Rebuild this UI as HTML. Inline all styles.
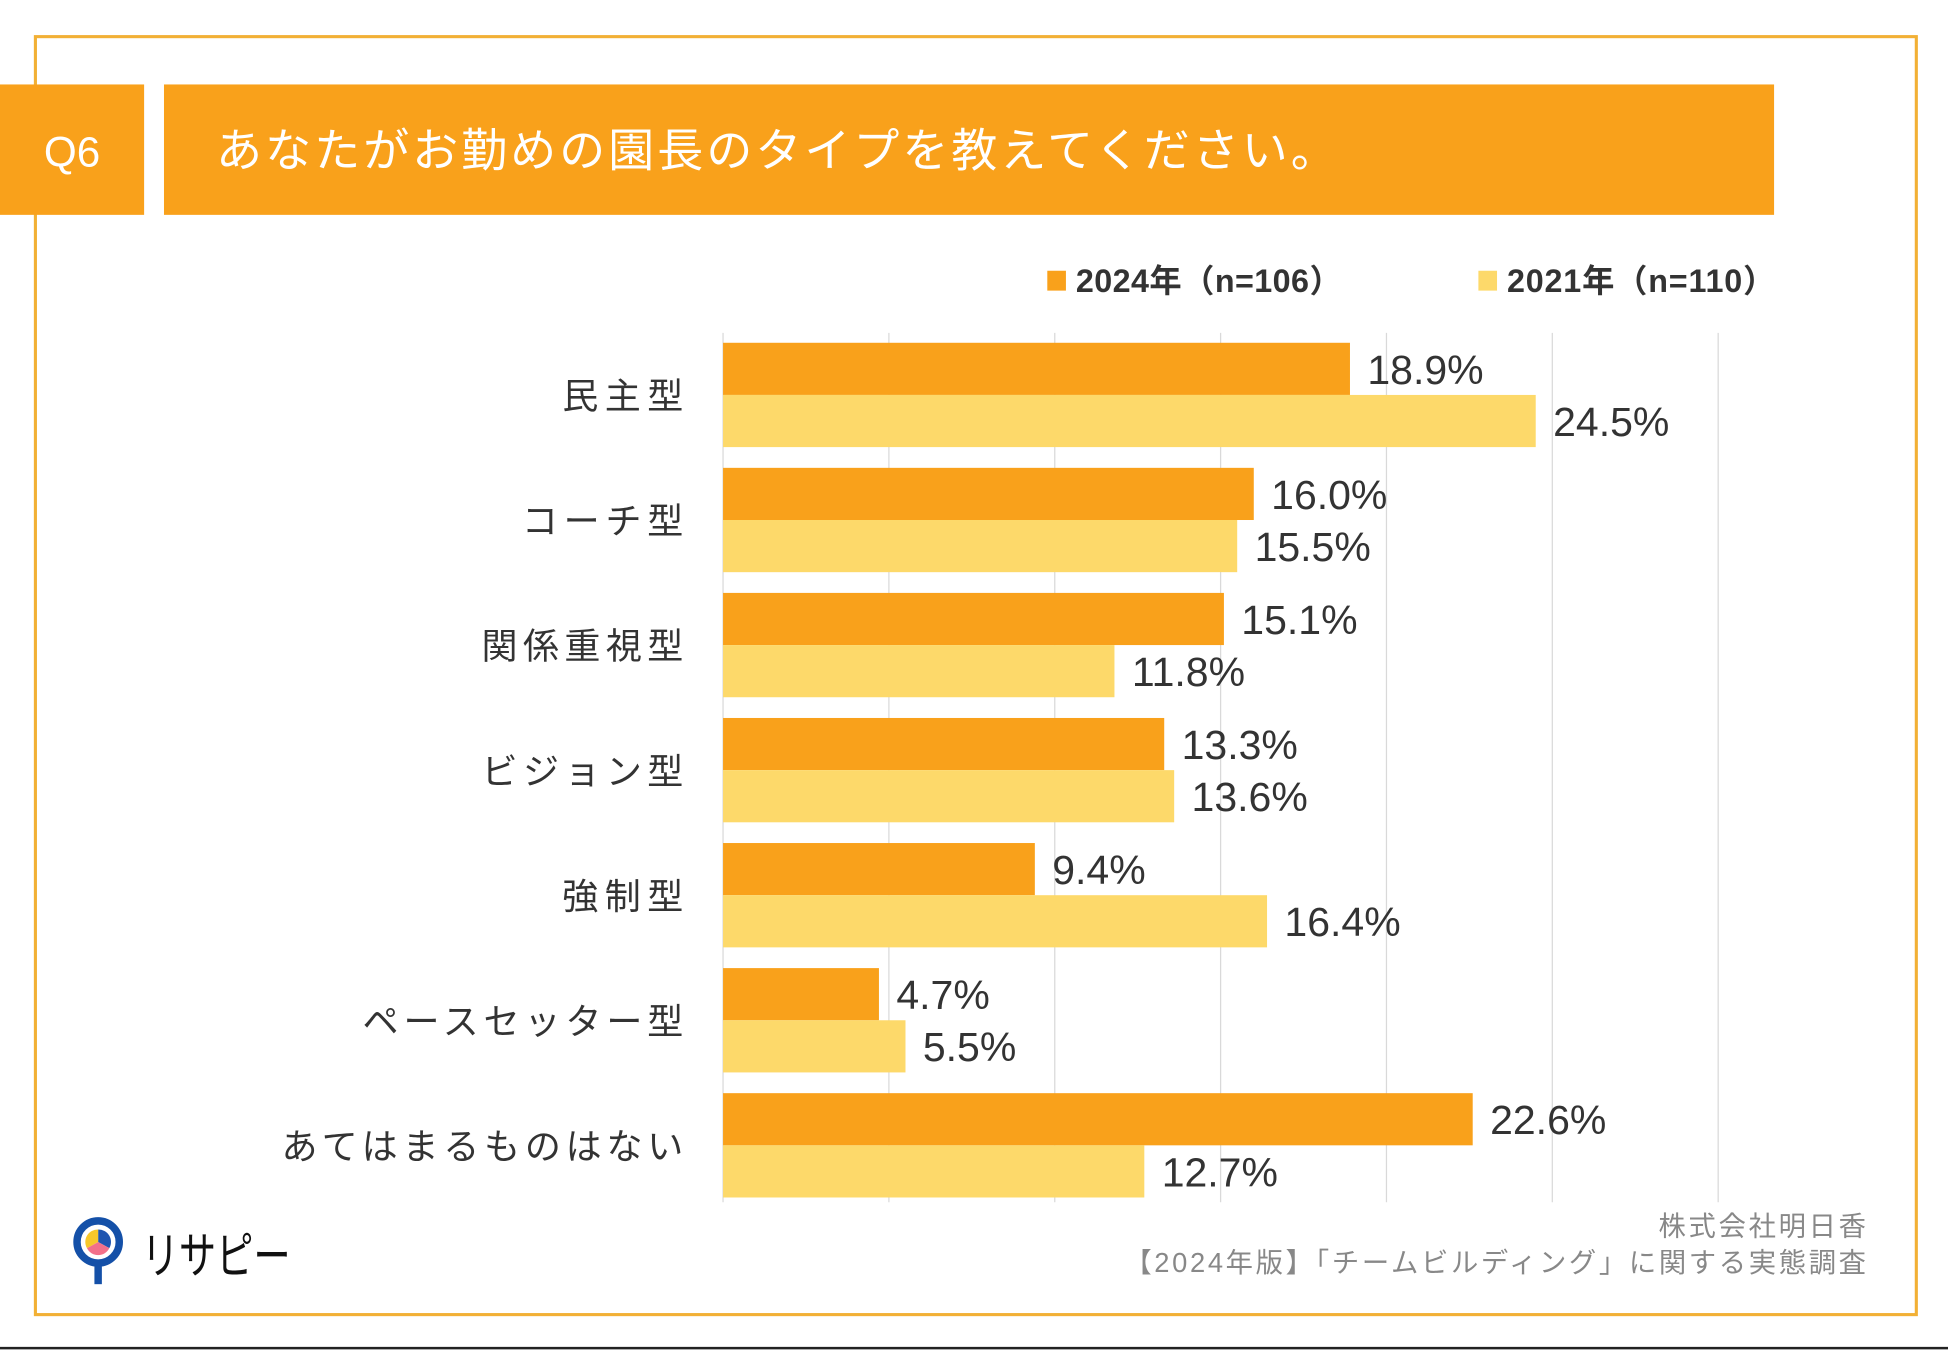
<!DOCTYPE html>
<html><head><meta charset="utf-8"><style>
html,body{margin:0;padding:0;background:#fff;}
svg{display:block;}
text{font-family:"Liberation Sans","Noto Sans CJK JP",sans-serif;}
</style></head><body>
<svg id="chart" width="1948" height="1350" viewBox="0 0 1568 1087" preserveAspectRatio="none" xmlns="http://www.w3.org/2000/svg">
<rect x="28.5" y="29.5" width="1514" height="1029" fill="none" stroke="#F2B035" stroke-width="2.5"/>
<line x1="0" y1="1085.5" x2="1568" y2="1085.5" stroke="#222" stroke-width="2"/>
<rect x="0" y="68" width="116" height="105" fill="#F9A11B"/>
<text x="58" y="134" font-size="34" fill="#fff" text-anchor="middle">Q6</text>
<rect x="132" y="68" width="1296" height="105" fill="#F9A11B"/>
<text x="174" y="134" font-size="37" fill="#fff" textLength="902" lengthAdjust="spacing">あなたがお勤めの園長のタイプを教えてください。</text>
<g>
<rect x="843" y="218" width="15" height="16" fill="#F9A11B"/>
<text x="866" y="235" font-size="26" font-weight="bold" fill="#333" textLength="214" lengthAdjust="spacing">2024年（n=106）</text>
<rect x="1190" y="218" width="15" height="16" fill="#FDD96A"/>
<text x="1213" y="235" font-size="26" font-weight="bold" fill="#333" textLength="216" lengthAdjust="spacing">2021年（n=110）</text>
</g>
<g id="grid"></g>
<g id="bars"></g>
<g id="labels"></g>
<g>
<line x1="79" y1="1010" x2="79" y2="1034" stroke="#1450A8" stroke-width="6"/>
<circle cx="79" cy="1000" r="17" fill="#fff" stroke="#1450A8" stroke-width="6"/>
<path d="M79 1000 L79 990 A10 10 0 0 1 88 1005 Z" fill="#1F55B0"/>
<path d="M79 1000 L88 1005 A10 10 0 0 1 70 1005 Z" fill="#F2708A"/>
<path d="M79 1000 L70 1005 A10 10 0 0 1 79 990 Z" fill="#F7C72A"/>
<text x="114" y="1025" font-size="40" fill="#111" textLength="120" lengthAdjust="spacingAndGlyphs">リサピー</text>
</g>
<text x="1335" y="995" font-size="22" fill="#888" textLength="167" lengthAdjust="spacing">株式会社明日香</text>
<text x="905" y="1024" font-size="22" fill="#888" textLength="597" lengthAdjust="spacing">【2024年版】「チームビルディング」に関する実態調査</text>
</svg>
<script>
const categories = ["民主型","コーチ型","関係重視型","ビジョン型","強制型","ペースセッター型","あてはまるものはない"];
const values2024 = [18.9,16.0,15.1,13.3,9.4,4.7,22.6];
const values2021 = [24.5,15.5,11.8,13.6,16.4,5.5,12.7];
const gridTicks = [0,5,10,15,20,25,30];

const NS = "http://www.w3.org/2000/svg";
const x0 = 582, pxPer = 133.5/5;
const xScale = v => x0 + v*pxPer;
const groupTop = 276, groupPitch = 100.7, barH = 42;
const yScale = i => groupTop + i*groupPitch;
function mk(tag, attrs){const e=document.createElementNS(NS,tag);for(const k in attrs)e.setAttribute(k,attrs[k]);return e;}
const grid=document.getElementById('grid'), bars=document.getElementById('bars'), labels=document.getElementById('labels');
gridTicks.forEach(t=>{
  const l=mk('line',{x1:xScale(t),x2:xScale(t),y1:268,y2:968,stroke:'#d9d9d9','stroke-width':1});
  
  
  grid.appendChild(l);
});
categories.forEach((c,i)=>{
  const y=yScale(i);
  const t=mk('text',{x:550,y:y+barH+11,'font-size':29,fill:'#333','text-anchor':'end'});
  t.textContent=c;
  
  
  labels.appendChild(t);
  const w=t.getComputedTextLength();
  if(w>0){t.setAttribute('textLength',(w*1.12).toFixed(1));t.setAttribute('lengthAdjust','spacing');}
  [[values2024[i],'#F9A11B',0,'2024'],[values2021[i],'#FDD96A',barH,'2021']].forEach(([v,col,off,yr])=>{
    const r=mk('rect',{x:x0,y:y+off,width:xScale(v)-x0,height:barH,fill:col});
    
    
    bars.appendChild(r);
    const vt=mk('text',{x:xScale(v)+14,y:y+off+barH/2+12,'font-size':33,fill:'#333'});
    vt.textContent=v.toFixed(1)+'%';
    
    
    labels.appendChild(vt);
  });
});
</script>
</body></html>
